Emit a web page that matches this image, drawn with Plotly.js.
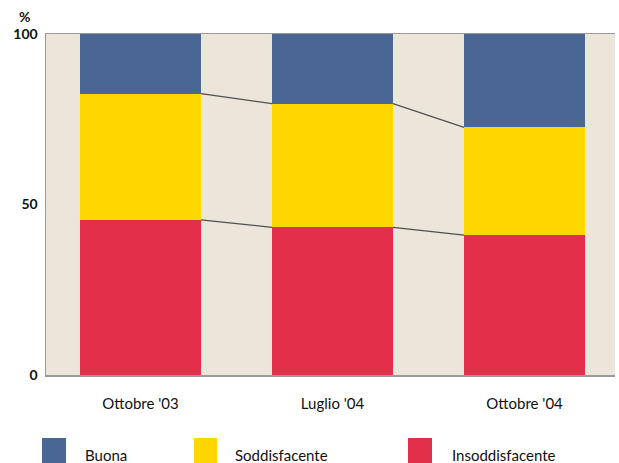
<!DOCTYPE html>
<html>
<head>
<meta charset="utf-8">
<script src="https://cdn.plot.ly/plotly-3.0.1.min.js"></script>
<style>html,body{margin:0;padding:0;background:#fff;}#chart{width:619px;height:463px;}</style>
</head>
<body>
<div id="chart"></div>
<script>
// ---- data ----
var categories = ["Ottobre '03", "Luglio '04", "Ottobre '04"];
var insoddisfacente = [45.5, 43.3, 41.0];
var soddisfacente = [37.0, 36.3, 31.6];
var buona = [17.5, 20.4, 27.4];
var seriesNames = ["Buona", "Soddisfacente", "Insoddisfacente"];
var yTickVals = [0, 50, 100];

// ---- style ----
var colBlue = "#4a6793", colYellow = "#ffd700", colRed = "#e2304a";
var barW = 0.63;
var xIdx = categories.map(function(_, i){ return i; });

// pixel helpers for paper positions (plot area: x 46..615, y 34..375)
var L = 46, R = 615, T = 34, B = 375;
function px(p){ return (p - L) / (R - L); }
function py(p){ return (B - p) / (B - T); }

var traces = [];
traces.push({type:'bar', x:xIdx, y:insoddisfacente, width:barW, name:seriesNames[2],
  marker:{color:colRed, line:{width:0}}, hoverinfo:'skip', showlegend:false});
traces.push({type:'bar', x:xIdx, y:soddisfacente, width:barW, name:seriesNames[1],
  marker:{color:colYellow, line:{width:0}}, hoverinfo:'skip', showlegend:false});
traces.push({type:'bar', x:xIdx, y:buona, width:barW, name:seriesNames[0],
  marker:{color:colBlue, line:{width:0}}, hoverinfo:'skip', showlegend:false});

// connecting lines between bars at the boundaries
var cum1 = insoddisfacente.slice();
var cum2 = insoddisfacente.map(function(v,i){ return v + soddisfacente[i]; });
[cum1, cum2].forEach(function(cum){
  var xs = [], ys = [];
  for (var i = 0; i < categories.length - 1; i++) {
    xs.push(i + barW/2, i + 1 - barW/2, null);
    ys.push(cum[i], cum[i+1], null);
  }
  traces.push({type:'scatter', mode:'lines', x:xs, y:ys, line:{color:'#505050', width:1.2},
    hoverinfo:'skip', showlegend:false, connectgaps:false});
});

// custom legend
var legColors = [colBlue, colYellow, colRed];
var legSq = [[42,66],[194,217],[408,432]];
var legTx = [83, 233, 450];
var shapes = [], annotations = [];
for (var k = 0; k < 3; k++) {
  shapes.push({type:'rect', xref:'paper', yref:'paper', x0:px(legSq[k][0]), x1:px(legSq[k][1]),
    y0:py(438), y1:py(466), fillcolor:legColors[k], line:{width:0}});
  annotations.push({xref:'paper', yref:'paper', x:px(legTx[k]), y:py(455), xanchor:'left', yanchor:'middle',
    text:seriesNames[k], showarrow:false, font:{family:'Lato, sans-serif', size:15, color:'#111'}});
}
annotations.push({xref:'paper', yref:'paper', x:px(24), y:py(16), xanchor:'center', yanchor:'middle',
  text:'%', showarrow:false, font:{family:'Lato, sans-serif', size:14, color:'#111', weight:'bold'}});

var layout = {
  width:619, height:463,
  margin:{l:L, r:619-R, t:T, b:463-B, pad:0},
  paper_bgcolor:'#ffffff', plot_bgcolor:'#ebe6d9',
  barmode:'stack', bargap:0,
  showlegend:false,
  xaxis:{range:[-0.492, 2.471], tickmode:'array', tickvals:xIdx, ticktext:categories,
    showgrid:false, zeroline:false, ticks:'', showline:true, linecolor:'#9a9a9a', linewidth:1.5,
    mirror:true, ticklabelstandoff:14,
    tickfont:{family:'Lato, sans-serif', size:15, color:'#111'}, fixedrange:true},
  yaxis:{range:[0,100], tickmode:'array', tickvals:yTickVals, showgrid:false, zeroline:false,
    ticks:'', showline:true, linecolor:'#9a9a9a', linewidth:1.5, ticklabelstandoff:4,
    tickfont:{family:'Lato, sans-serif', size:14, color:'#111', weight:'bold'}, fixedrange:true},
  shapes:shapes, annotations:annotations
};

Plotly.newPlot('chart', traces, layout, {staticPlot:true, displayModeBar:false});
</script>
</body>
</html>
